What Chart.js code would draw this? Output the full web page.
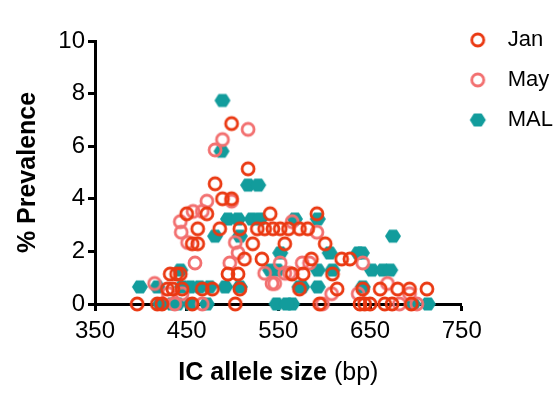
<!DOCTYPE html>
<html><head><meta charset="utf-8">
<script src="https://cdn.jsdelivr.net/npm/chart.js@4"></script>
<style>html,body{margin:0;padding:0;background:#fff}</style>
</head><body>
<canvas id="c" width="558" height="394"></canvas>
<script>
// ---- data (IC allele size in bp, % prevalence) ----
const seriesNames = ['Jan', 'May', 'MAL'];
const janSize = [396,418,423,429,435,445,432,439,456,462,462,450,472,499,517,481,489,499,486,508,541,527,535,544,522,513,532,495,506,467,478,508,456,503,443,552,592,582,557,601,586,619,628,565,577,609,573,614,595,642,639,644,661,680,693,712,650,666,674,695,561,573];
const janPrev = [0,0,0,0.57,0.57,0.57,1.14,1.14,2.29,2.29,2.86,3.43,3.43,6.86,5.14,4.57,4.0,4.0,2.86,2.86,3.43,2.86,2.86,2.86,2.29,1.71,1.71,1.14,1.14,0.57,0.57,0.57,0,0,1.14,2.86,3.43,2.86,2.29,2.29,1.71,1.71,1.71,1.14,1.14,1.14,0.57,0.57,0,0.57,0,0,0.57,0.57,0.57,0.57,0,0,0,0,2.86,2.86];
const maySize = [517,489,481,472,499,457,467,444,451,459,497,506,503,543,445,467,565,592,552,576,546,608,598,557,637,642,669,682,443,415,437,535,562,584,693,701,430];
const mayPrev = [6.64,6.25,5.86,3.91,3.91,3.52,3.52,2.73,2.34,1.56,1.56,1.95,2.34,0.78,0.39,0,3.13,2.73,1.56,1.56,0.78,0.39,0,1.17,0.39,1.56,0.78,0,3.13,0.78,0,1.17,1.17,1.56,0.39,0,0.39];
const malSize = [489,488,517,528,495,506,521,530,481,492,508,445,454,464,475,454,548,541,399,443,418,421,440,593,568,552,606,637,593,576,593,609,565,675,641,652,664,672,642,713,697,434,508,549,472,573,559];
const malPrev = [7.74,5.81,4.52,4.52,3.23,3.23,3.23,3.23,2.58,0.65,0.65,0.65,0.65,0.65,0.65,0,0,1.29,0.65,1.29,0.65,0,0,3.23,3.23,1.94,1.94,1.94,1.29,0.65,0.65,1.29,0,2.58,1.94,1.29,1.29,1.29,0.65,0,0,0,2.58,1.29,0,0.65,0];
const xTicks = [350, 450, 550, 650, 750];
const yTicks = [0, 2, 4, 6, 8, 10];
const xTitleBold = 'IC allele size';
const xTitleNormal = ' (bp)';
const yTitle = '% Prevalence';

// ---- styles ----
const colors = ['#EA3912', '#F27070', '#129C9C'];
const FONT = '"Liberation Sans", Arial, Helvetica, sans-serif';

function makeMarker(kind, color, w, h, cx) {
  const c = document.createElement('canvas');
  c.width = w; c.height = h;
  const g = c.getContext('2d');
  const cy = h / 2;
  if (kind === 'ring') {
    g.strokeStyle = color; g.lineWidth = 2.8;
    g.beginPath(); g.arc(cx, cy, 6, 0, Math.PI * 2); g.stroke();
  } else {
    g.fillStyle = color;
    g.beginPath();
    g.moveTo(cx - 8, cy); g.lineTo(cx - 3.9, cy - 6.5); g.lineTo(cx + 3.9, cy - 6.5);
    g.lineTo(cx + 8, cy); g.lineTo(cx + 3.9, cy + 6.5); g.lineTo(cx - 3.9, cy + 6.5);
    g.closePath(); g.fill();
  }
  return c;
}
const kinds = ['ring', 'ring', 'hex'];
const pointMarks = kinds.map((k, i) => makeMarker(k, colors[i], 18, 18, 9));
const legendMarks = kinds.map((k, i) => makeMarker(k, colors[i], 40, 18, 9.5));

const toPts = (xs, ys) => xs.map((x, i) => ({x: x, y: ys[i]}));
const allData = [toPts(janSize, janPrev), toPts(maySize, mayPrev), toPts(malSize, malPrev)];

const xTitlePlugin = {
  id: 'xTitleMixed',
  afterDraw(chart) {
    const {ctx, chartArea} = chart;
    ctx.save();
    const bold = 'bold 25px ' + FONT, norm = '25px ' + FONT;
    ctx.font = bold; const w1 = ctx.measureText(xTitleBold).width;
    ctx.font = norm; const w2 = ctx.measureText(xTitleNormal).width;
    const x0 = (chartArea.left + chartArea.right) / 2 - (w1 + w2) / 2;
    const y = chartArea.bottom + 69;
    ctx.textBaseline = 'middle'; ctx.textAlign = 'left'; ctx.fillStyle = '#000';
    ctx.font = bold; ctx.fillText(xTitleBold, x0, y);
    ctx.font = norm; ctx.fillText(xTitleNormal, x0 + w1, y);
    ctx.restore();
  }
};

new Chart(document.getElementById('c'), {
  type: 'scatter',
  data: {
    datasets: seriesNames.map((name, i) => ({
      label: name,
      data: allData[i],
      pointStyle: pointMarks[i],
      pointRadius: 7,
      pointHoverRadius: 7,
      borderColor: colors[i],
      backgroundColor: colors[i],
      clip: false
    }))
  },
  options: {
    responsive: false,
    animation: false,
    layout: {padding: {top: 11, right: -5, bottom: 0, left: 0}},
    plugins: {
      tooltip: {enabled: false},
      title: {display: true, text: '', font: {size: 10}, padding: {top: 9, bottom: 9}},
      legend: {
        position: 'right',
        align: 'start',
        labels: {
          usePointStyle: true,
          boxWidth: 17,
          padding: 18,
          color: '#000',
          font: {size: 22, family: FONT},
          generateLabels(chart) {
            const items = Chart.defaults.plugins.legend.labels.generateLabels(chart);
            items.forEach((it, i) => { it.pointStyle = legendMarks[i]; });
            return items;
          }
        }
      }
    },
    scales: {
      x: {
        type: 'linear',
        min: xTicks[0], max: xTicks[xTicks.length - 1],
        afterBuildTicks(s) { s.ticks = xTicks.map(v => ({value: v})); },
        afterFit(s) { s.height = 90; },
        border: {display: true, color: '#000', width: 3},
        grid: {drawOnChartArea: false, drawTicks: true, tickLength: 7, tickWidth: 3, tickColor: '#000'},
        ticks: {color: '#000', padding: 6, font: {size: 24, family: FONT}, maxRotation: 0}
      },
      y: {
        type: 'linear',
        min: yTicks[0], max: yTicks[yTicks.length - 1],
        afterBuildTicks(s) { s.ticks = yTicks.map(v => ({value: v})); },
        afterFit(s) { s.width = 95; },
        border: {display: true, color: '#000', width: 3},
        grid: {drawOnChartArea: false, drawTicks: true, tickLength: 7, tickWidth: 3, tickColor: '#000'},
        ticks: {color: '#000', padding: 3, font: {size: 24, family: FONT}},
        title: {display: true, text: yTitle, color: '#000', font: {size: 25, weight: 'bold', family: FONT}, padding: {top: 13, bottom: 0}}
      }
    }
  },
  plugins: [xTitlePlugin]
});
</script>
</body></html>
